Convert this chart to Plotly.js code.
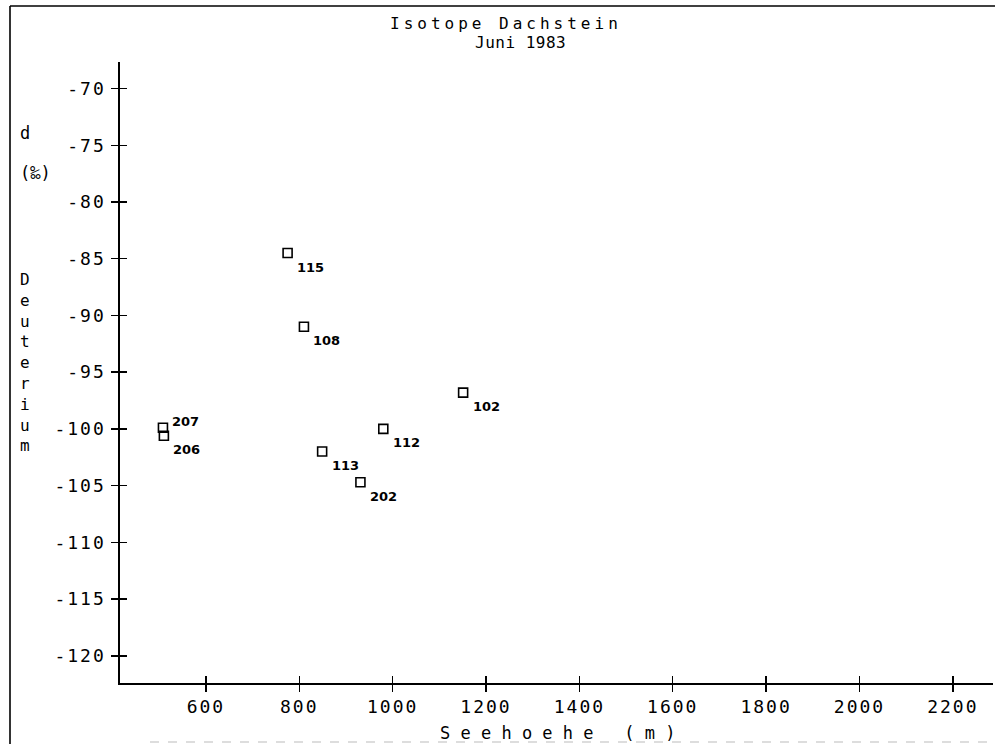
<!DOCTYPE html>
<html>
<head>
<meta charset="utf-8">
<script src="https://cdn.plot.ly/plotly-3.0.1.min.js"></script>
<style>
  body { margin: 0; background: #fff; }
  #chart { width: 995px; height: 744px; }
  .xtick text, .ytick text { letter-spacing: 2px; }
</style>
</head>
<body>
<div id="chart"></div>
<script>
// ---- data ----
const sampleLabels = ['115', '108', '207', '206', '112', '113', '202', '102'];
const elevation    = [775, 810, 508, 510, 980, 849, 931, 1151];          // Seehoehe (m)
const deuterium    = [-84.5, -91.0, -99.9, -100.6, -100.0, -102.0, -104.7, -96.8]; // d (‰)

const xTickVals   = [600, 800, 1000, 1200, 1400, 1600, 1800, 2000, 2200];
const xTickLabels = ['600', '800', '1000', '1200', '1400', '1600', '1800', '2000', '2200'];
const yTickVals   = [-70, -75, -80, -85, -90, -95, -100, -105, -110, -115, -120];
const yTickLabels = ['-70', '-75', '-80', '-85', '-90', '-95', '-100', '-105', '-110', '-115', '-120'];

const titleLine1 = 'Isotope Dachstein';
const titleLine2 = 'Juni 1983';
const xTitle = 'Seehoehe';
const xUnit = 'm';
const yTitleTop = 'd';
const yUnit = '(‰)';
const yTitleWord = 'Deuterium';

// ---- layout helpers ----
const W = 995, H = 744;
const M = { l: 120, r: 2, t: 62, b: 61 };
const PW = W - M.l - M.r, PH = H - M.t - M.b;
const px = x => (x - M.l) / PW;         // pixel -> paper x
const py = y => (H - M.b - y) / PH;     // pixel -> paper y

const mono = 'DejaVu Sans Mono, Liberation Mono, monospace';
const NB = '\u00A0';
const spaced = s => s.split('').join(NB);

const traces = [
  {
    type: 'scatter', mode: 'markers',
    x: elevation, y: deuterium,
    marker: { symbol: 'square-open', size: 9, color: '#000', line: { width: 1.6, color: '#000' } },
    hoverinfo: 'x+y', showlegend: false
  },
  { type: 'scatter', mode: 'markers', x: [], y: [], xaxis: 'x2', yaxis: 'y2', showlegend: false, hoverinfo: 'skip' }
];

const xRange = [416, 2286];
const yRange = [-122.4, -67.66];

const baseAxis = {
  showgrid: false, zeroline: false, showline: true,
  linecolor: '#000', linewidth: 1.6,
  ticks: 'outside', ticklen: 7, tickwidth: 1.5, tickcolor: '#000',
  tickfont: { family: mono, size: 18, color: '#000' }
};

const layout = {
  width: W, height: H,
  margin: M,
  paper_bgcolor: '#fff', plot_bgcolor: '#fff',
  xaxis: Object.assign({}, baseAxis, {
    range: xRange, tickmode: 'array', tickvals: xTickVals, ticktext: xTickLabels,
    ticklabelstandoff: 0
  }),
  yaxis: Object.assign({}, baseAxis, {
    range: yRange, tickmode: 'array', tickvals: yTickVals, ticktext: yTickLabels,
    ticklabelstandoff: 2
  }),
  xaxis2: {
    overlaying: 'x', range: xRange, tickmode: 'array', tickvals: xTickVals,
    ticks: 'inside', ticklen: 7, tickwidth: 1.5, tickcolor: '#000',
    showticklabels: false, showline: false, showgrid: false, zeroline: false
  },
  yaxis2: {
    overlaying: 'y', range: yRange, tickmode: 'array', tickvals: yTickVals,
    ticks: 'inside', ticklen: 7, tickwidth: 1.5, tickcolor: '#000',
    showticklabels: false, showline: false, showgrid: false, zeroline: false
  },
  annotations: [],
  shapes: [
    { type: 'line', xref: 'paper', yref: 'paper', x0: px(10), x1: px(10), y0: py(6), y1: py(744), line: { color: '#000', width: 1.6 } },
    { type: 'line', xref: 'paper', yref: 'paper', x0: px(10), x1: px(995), y0: py(6), y1: py(6), line: { color: '#000', width: 1.6 } },
    { type: 'line', xref: 'paper', yref: 'paper', x0: px(150), x1: px(990), y0: py(742), y1: py(742), line: { color: '#bbb', width: 1, dash: 'dash' } }
  ]
};

// titles
layout.annotations.push({
  xref: 'paper', yref: 'paper', x: px(506), y: py(24), showarrow: false,
  xanchor: 'center', yanchor: 'middle',
  text: '<span style="letter-spacing:4px">' + titleLine1 + '</span>',
  font: { family: mono, size: 16, color: '#000' }
});
layout.annotations.push({
  xref: 'paper', yref: 'paper', x: px(520), y: py(42), showarrow: false,
  xanchor: 'center', yanchor: 'middle',
  text: '<span style="letter-spacing:0.5px">' + titleLine2 + '</span>',
  font: { family: mono, size: 16, color: '#000' }
});
// x axis title
layout.annotations.push({
  xref: 'paper', yref: 'paper', x: px(557), y: py(733), showarrow: false,
  xanchor: 'center', yanchor: 'middle',
  text: spaced(xTitle) + NB + NB + NB + spaced('(' + xUnit + ')'),
  font: { family: mono, size: 17, color: '#000' }
});
// y axis title (stacked)
layout.annotations.push({
  xref: 'paper', yref: 'paper', x: px(25), y: py(133), showarrow: false,
  xanchor: 'center', yanchor: 'middle', text: yTitleTop,
  font: { family: mono, size: 17, color: '#000' }
});
layout.annotations.push({
  xref: 'paper', yref: 'paper', x: px(35), y: py(173), showarrow: false,
  xanchor: 'center', yanchor: 'middle', text: yUnit,
  font: { family: mono, size: 17, color: '#000' }
});
layout.annotations.push({
  xref: 'paper', yref: 'paper', x: px(25), y: py(362), showarrow: false,
  xanchor: 'center', yanchor: 'middle', text: yTitleWord.split('').join('<br>'),
  font: { family: mono, size: 16, color: '#000' }
});

// point labels (subscript-like, one set above)
const labelAbove = { '207': true };
sampleLabels.forEach((lab, i) => {
  layout.annotations.push({
    x: elevation[i], y: deuterium[i], xref: 'x', yref: 'y', showarrow: false,
    xanchor: 'center', yanchor: 'middle',
    xshift: 23, yshift: labelAbove[lab] ? 6 : -14,
    text: '<b>' + lab + '</b>',
    font: { family: 'DejaVu Sans, sans-serif', size: 13, color: '#000' }
  });
});

Plotly.newPlot('chart', traces, layout, { displayModeBar: false, staticPlot: true });
</script>
</body>
</html>
